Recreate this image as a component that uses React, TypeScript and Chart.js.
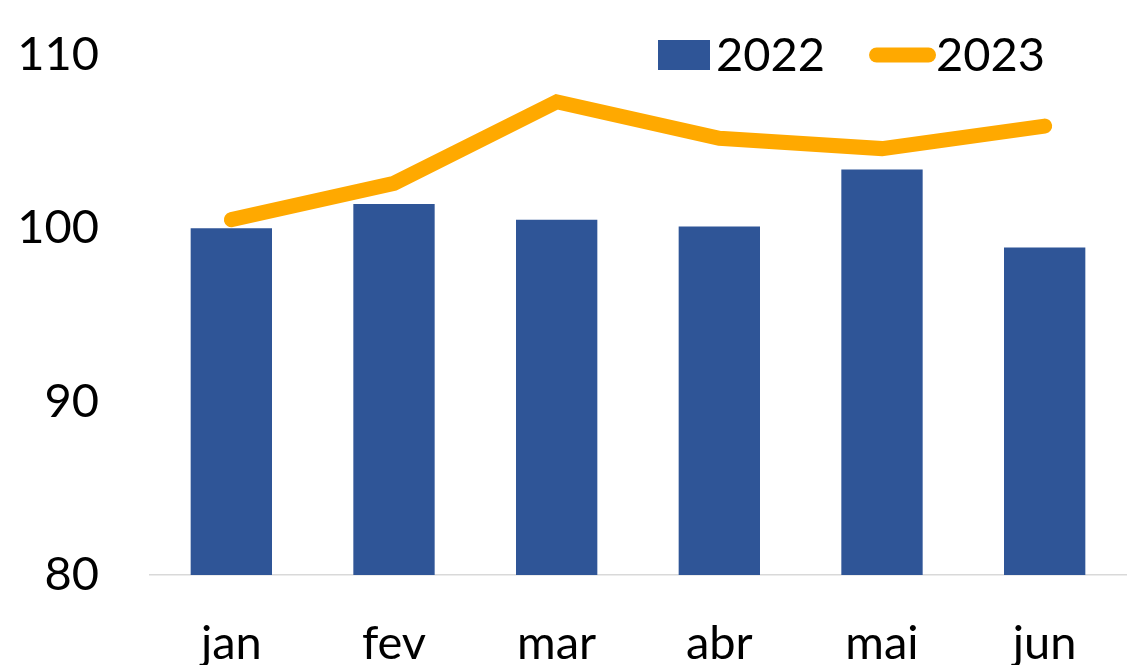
import React, { useEffect, useRef } from 'react';
import { Chart, registerables } from 'chart.js';

Chart.register(...registerables);

const categories = ['jan', 'fev', 'mar', 'abr', 'mai', 'jun'];
const series2022 = [100.0, 101.4, 100.5, 100.1, 103.4, 98.9];
const series2023 = [100.5, 102.6, 107.3, 105.2, 104.6, 105.9];
const seriesLabels = ['2022', '2023'];
const yMin = 80;
const yMax = 110;
const yStep = 10;

const BLUE = '#2F5597';
const ORANGE = '#FFA900';
const FONT = 'Lato, "Liberation Sans", sans-serif';
const FONT_SIZE = 47;

const legendPlugin = {
  id: 'customLegend',
  afterDraw(chart: any) {
    const ctx = chart.ctx;
    const bar = chart.data.datasets[1];
    const line = chart.data.datasets[0];
    ctx.save();
    ctx.font = `${FONT_SIZE}px ${FONT}`;
    ctx.textBaseline = 'alphabetic';
    const cy = 55;
    const base = 71;
    let x = 658;
    ctx.fillStyle = bar.backgroundColor;
    ctx.fillRect(x, cy - 15, 52, 30);
    x += 52 + 6;
    ctx.fillStyle = '#000';
    ctx.fillText(bar.label, x, base);
    x += ctx.measureText(bar.label).width + 44;
    ctx.strokeStyle = line.borderColor;
    ctx.lineWidth = 15;
    ctx.lineCap = 'round';
    ctx.beginPath();
    ctx.moveTo(x + 7.5, cy);
    ctx.lineTo(x + 67 - 7.5, cy);
    ctx.stroke();
    x += 67;
    ctx.fillStyle = '#000';
    ctx.fillText(line.label, x, base);
    ctx.restore();
  },
};

export default function App() {
  const ref = useRef<HTMLCanvasElement | null>(null);

  useEffect(() => {
    if (!ref.current) return;
    const chart = new Chart(ref.current, {
      type: 'bar',
      data: {
        labels: categories,
        datasets: [
          {
            type: 'line',
            label: seriesLabels[1],
            data: series2023,
            borderColor: ORANGE,
            backgroundColor: ORANGE,
            borderWidth: 15,
            borderCapStyle: 'round',
            borderJoinStyle: 'miter',
            pointRadius: 0,
            pointHoverRadius: 0,
            tension: 0,
            fill: false,
            order: 0,
            clip: false,
          } as any,
          {
            type: 'bar',
            label: seriesLabels[0],
            data: series2022,
            backgroundColor: BLUE,
            borderWidth: 0,
            categoryPercentage: 1,
            barPercentage: 0.5,
            order: 1,
          } as any,
        ],
      },
      options: {
        responsive: false,
        animation: false,
        layout: { padding: { top: 55, right: 14, bottom: 0, left: 0 } },
        plugins: {
          legend: { display: false },
          tooltip: { enabled: false },
        },
        scales: {
          x: {
            grid: { display: false, drawTicks: false },
            border: { display: true, color: '#D9D9D9', width: 1.5 },
            ticks: {
              color: '#000',
              font: { family: FONT, size: FONT_SIZE },
              padding: 41,
              maxRotation: 0,
              autoSkip: false,
            },
            afterFit: (s: any) => {
              s.height = 90;
              s.paddingLeft = 0;
              s.paddingRight = 0;
            },
          },
          y: {
            min: yMin,
            max: yMax,
            grid: { display: false, drawTicks: false },
            border: { display: false },
            ticks: {
              stepSize: yStep,
              color: '#000',
              font: { family: FONT, size: FONT_SIZE },
              padding: 51,
            },
            afterFit: (s: any) => {
              s.width = 150;
              s.paddingTop = 0;
              s.paddingBottom = 0;
            },
          },
        },
      },
      plugins: [legendPlugin],
    });
    return () => chart.destroy();
  }, []);

  return (
    <div style={{ position: 'fixed', left: 0, top: 0, width: 1140, height: 665, background: '#fff' }}>
      <canvas ref={ref} width={1140} height={665} style={{ display: 'block' }} />
    </div>
  );
}
